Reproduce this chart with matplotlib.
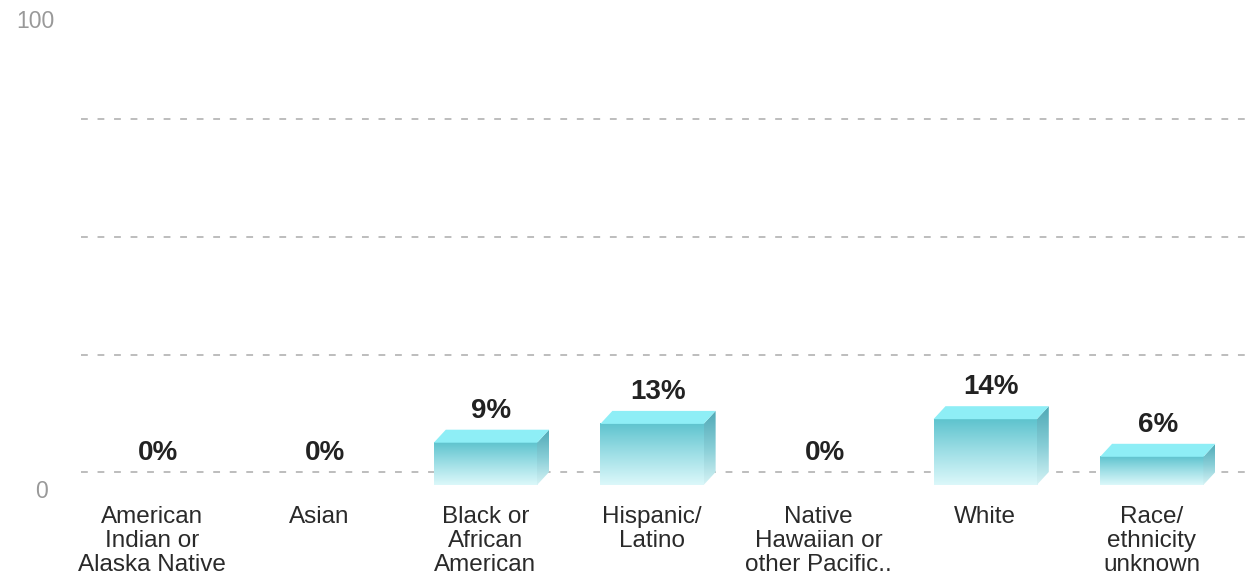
import numpy as np
import matplotlib
matplotlib.use('Agg')
import matplotlib.pyplot as plt
from matplotlib.patches import Polygon
from matplotlib.colors import LinearSegmentedColormap

plt.rcParams['font.family'] = ['Liberation Sans', 'DejaVu Sans']

# data
categories = ['American\nIndian or\nAlaska Native', 'Asian', 'Black or\nAfrican\nAmerican',
              'Hispanic/\nLatino', 'Native\nHawaiian or\nother Pacific..', 'White',
              'Race/\nethnicity\nunknown']
values = [0, 0, 9, 13, 0, 14, 6]
labels = ['0%', '0%', '9%', '13%', '0%', '14%', '6%']
y_ticks = [0, 100]
grid_vals = [0, 25, 50, 75]

W, H, DPI = 1249, 582, 100
fig = plt.figure(figsize=(W / DPI, H / DPI), dpi=DPI)
ax = fig.add_axes([69 / W, 97 / H, 1166 / W, 470 / H])
ax.set_xlim(-0.5, len(categories) - 0.5)
ax.set_ylim(0, 100)
ax.axis('off')

# 3D depth offset, pixels -> data units
dx_px, dy_px = 12, 13
px_x = 1166 / len(categories)
px_y = 470 / 100
ddx = dx_px / px_x
ddy = dy_px / px_y
bw = 0.62

# back wall gridlines
for g in grid_vals:
    ax.plot([-0.5 + ddx, len(categories) - 0.5 + ddx], [g + ddy, g + ddy],
            color='#bdbdbd', lw=1.4, dashes=(3.5, 5), clip_on=False, zorder=1)

front_cmap = LinearSegmentedColormap.from_list('front', ['#dcf8fa', '#9fdfe6', '#5ec3ce'])
side_cmap = LinearSegmentedColormap.from_list('side', ['#d6f3f5', '#86cdd6', '#4fa9b6'])
grad = np.linspace(0, 1, 256).reshape(-1, 1)

for i, v in enumerate(values):
    x0, x1 = i - bw / 2, i + bw / 2
    if v > 0:
        # front face
        ax.imshow(grad, cmap=front_cmap, origin='lower', aspect='auto',
                  extent=[x0, x1, 0, v], zorder=3)
        # side face
        side = Polygon([(x1, 0), (x1 + ddx, ddy), (x1 + ddx, v + ddy), (x1, v)],
                       closed=True, facecolor='none', edgecolor='none')
        ax.add_patch(side)
        im = ax.imshow(grad, cmap=side_cmap, origin='lower', aspect='auto',
                       extent=[x1, x1 + ddx, 0, v + ddy], zorder=3)
        im.set_clip_path(side)
        # top face
        top = Polygon([(x0, v), (x1, v), (x1 + ddx, v + ddy), (x0 + ddx, v + ddy)],
                      closed=True, facecolor='#8eeef6', edgecolor='none', zorder=4)
        ax.add_patch(top)
    ax.annotate(labels[i], (i + ddx / 2, v + ddy), xytext=(0, 6), textcoords='offset pixels',
                ha='center', va='bottom', fontsize=20, fontweight='bold', color='#222222')
    ax.annotate(categories[i], (i, 0), xytext=(0, -21), textcoords='offset pixels',
                ha='center', va='top', fontsize=17.5, color='#2a2a2a', linespacing=1.13)

ax.set_xlim(-0.5, len(categories) - 0.5)
ax.set_ylim(0, 100)

# y axis labels
ax.annotate(str(y_ticks[1]), (-0.5, y_ticks[1]), xytext=(-14, -6), textcoords='offset pixels',
            ha='right', va='center', fontsize=16.5, color='#999999')
ax.annotate(str(y_ticks[0]), (-0.5, y_ticks[0]), xytext=(-21, -7), textcoords='offset pixels',
            ha='right', va='center', fontsize=16.5, color='#999999')

fig.savefig('out.png', dpi=DPI)
